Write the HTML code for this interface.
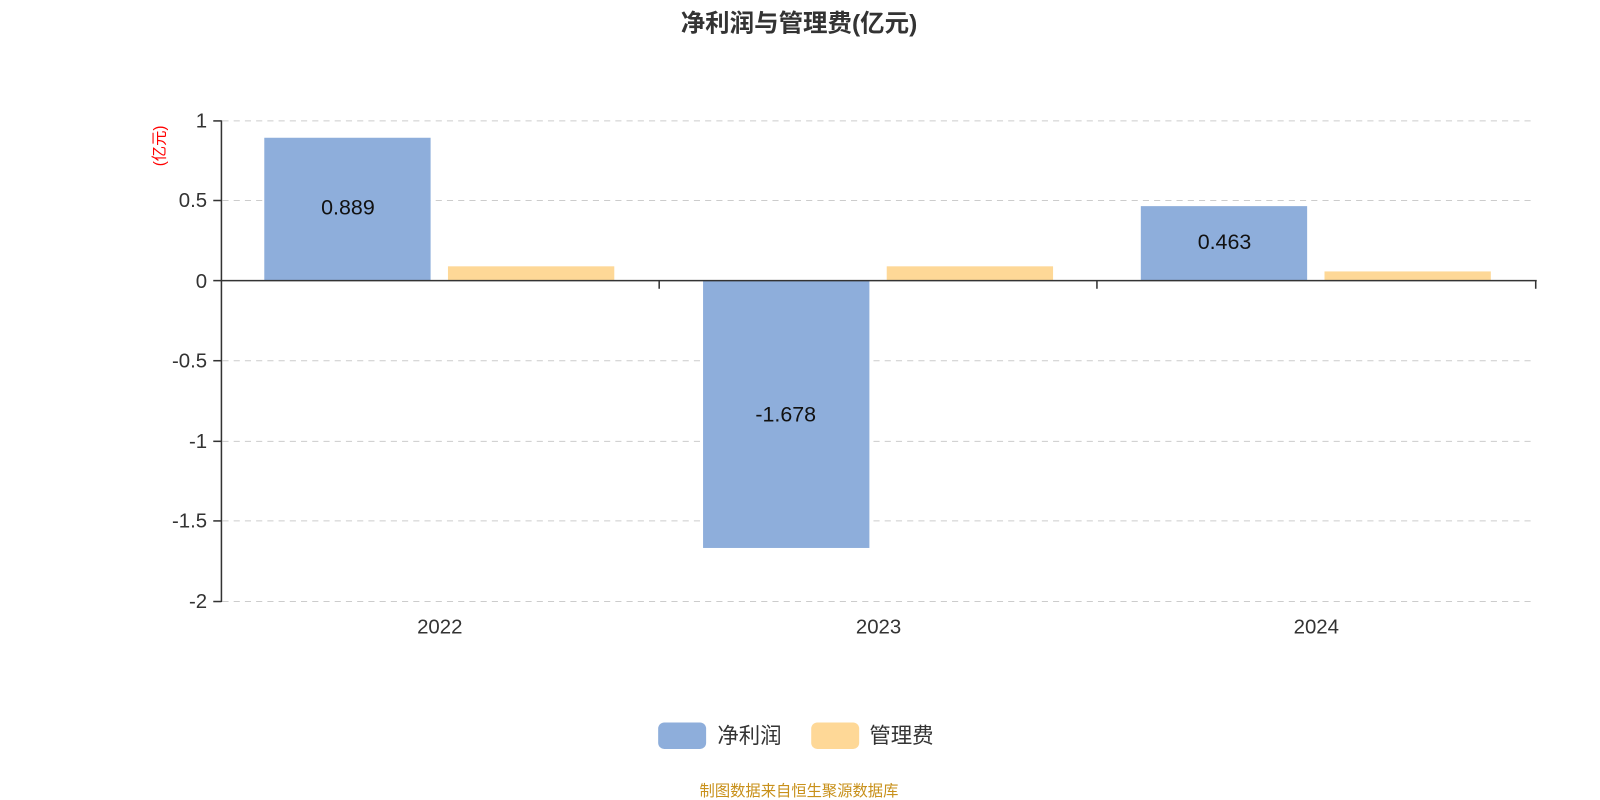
<!DOCTYPE html>
<html><head><meta charset="utf-8"><style>
html,body{margin:0;padding:0;background:#fff;}
svg text{font-family:"Liberation Sans","Noto Sans CJK SC",sans-serif;}
</style></head><body>
<svg width="1600" height="800" viewBox="0 0 1568 784" xmlns="http://www.w3.org/2000/svg" style="display:block">
<text x="783" y="31" font-size="24" font-weight="bold" fill="#333" text-anchor="middle">净利润与管理费(亿元)</text>
<g stroke="#ccc" stroke-dasharray="6,5" stroke-width="1">
<line x1="218" y1="118.5" x2="1505" y2="118.5"/>
<line x1="218" y1="196.5" x2="1505" y2="196.5"/>
<line x1="218" y1="353.5" x2="1505" y2="353.5"/>
<line x1="218" y1="432.5" x2="1505" y2="432.5"/>
<line x1="218" y1="510.5" x2="1505" y2="510.5"/>
<line x1="218" y1="589.5" x2="1505" y2="589.5"/>
</g>
<g fill="#8eaedb">
<rect x="259" y="135" width="163" height="140"/>
<rect x="689" y="275" width="163" height="262"/>
<rect x="1118" y="202" width="163" height="73"/>
</g>
<g fill="#fed897">
<rect x="439" y="261" width="163" height="14"/>
<rect x="869" y="261" width="163" height="14"/>
<rect x="1298" y="266" width="163" height="9"/>
</g>
<g stroke="#333" stroke-width="1.5" fill="none">
<line x1="217" y1="118" x2="217" y2="590"/>
<line x1="217" y1="275" x2="1506" y2="275"/>
<line x1="209" y1="118.5" x2="217" y2="118.5"/>
<line x1="209" y1="196.5" x2="217" y2="196.5"/>
<line x1="209" y1="275" x2="217" y2="275"/>
<line x1="209" y1="353.5" x2="217" y2="353.5"/>
<line x1="209" y1="432.5" x2="217" y2="432.5"/>
<line x1="209" y1="510.5" x2="217" y2="510.5"/>
<line x1="209" y1="589.5" x2="217" y2="589.5"/>
<line x1="646" y1="275" x2="646" y2="283"/>
<line x1="1075" y1="275" x2="1075" y2="283"/>
<line x1="1505" y1="275" x2="1505" y2="283"/>
</g>
<g font-size="20" fill="#333" text-anchor="end">
<text x="203" y="125">1</text>
<text x="203" y="203">0.5</text>
<text x="203" y="282">0</text>
<text x="203" y="360">-0.5</text>
<text x="203" y="439">-1</text>
<text x="203" y="517">-1.5</text>
<text x="203" y="596">-2</text>
</g>
<g font-size="20" fill="#333" text-anchor="middle">
<text x="431" y="621">2022</text>
<text x="861" y="621">2023</text>
<text x="1290" y="621">2024</text>
</g>
<g font-size="21" fill="#111" text-anchor="middle">
<text x="341" y="210">0.889</text>
<text x="770" y="413">-1.678</text>
<text x="1200" y="244">0.463</text>
</g>
<text transform="translate(161,143) rotate(-90)" font-size="15" fill="#f00" text-anchor="middle">(亿元)</text>
<rect x="645" y="708" width="47" height="26" rx="6" fill="#8eaedb"/>
<text x="703" y="728" font-size="21" fill="#333">净利润</text>
<rect x="795" y="708" width="47" height="26" rx="6" fill="#fed897"/>
<text x="852" y="728" font-size="21" fill="#333">管理费</text>
<text x="783" y="780" font-size="15" fill="#c8901a" text-anchor="middle">制图数据来自恒生聚源数据库</text>
</svg>
</body></html>
